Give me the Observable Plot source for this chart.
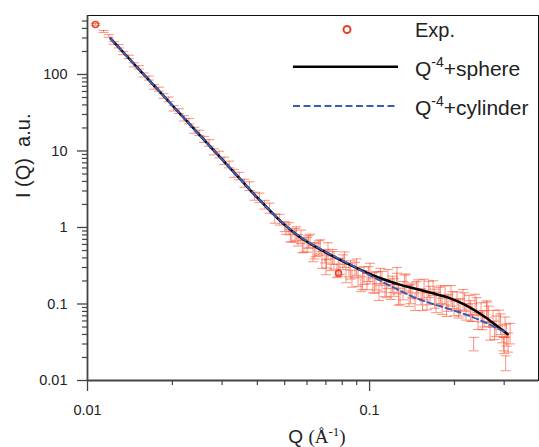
<!DOCTYPE html>
<html><head><meta charset="utf-8">
<script src="https://cdn.jsdelivr.net/npm/d3@7"></script>
<script src="https://cdn.jsdelivr.net/npm/@observablehq/plot@0.6"></script>
<style>body{margin:0;background:#fff;} #chart svg{display:block}</style>
</head><body><div id="chart"></div>
<script>
// Experimental data: Q (1/Å), I(Q), relative error
const expQ = [0.01067, 0.0114, 0.0119, 0.0124, 0.0129, 0.0134, 0.0140, 0.0146, 0.0152, 0.0158,
  0.0165, 0.0172, 0.0179, 0.0186, 0.0194, 0.0202, 0.0211, 0.0220, 0.0229, 0.0239,
  0.0249, 0.0259, 0.0270, 0.0281, 0.0293, 0.0305, 0.0318, 0.0331, 0.0345, 0.0360,
  0.0375, 0.0391, 0.0407, 0.0424, 0.0442, 0.0461, 0.0480, 0.0500,
  0.0505, 0.0518, 0.0530, 0.0544, 0.0557, 0.0571, 0.0585, 0.0600, 0.0615, 0.0630,
  0.0645, 0.0661, 0.0678, 0.0695, 0.0712, 0.0730, 0.0748, 0.0766, 0.0785, 0.0805,
  0.0825, 0.0845, 0.0866, 0.0888, 0.0910, 0.0932, 0.0955, 0.0979, 0.1003, 0.1028,
  0.1054, 0.1080, 0.1107, 0.1134, 0.1162, 0.1191, 0.1221, 0.1251, 0.1282, 0.1314,
  0.1346, 0.1380, 0.1414, 0.1449, 0.1485, 0.1522, 0.1560, 0.1598, 0.1638, 0.1679,
  0.1720, 0.1763, 0.1807, 0.1851, 0.1897, 0.1944, 0.1993, 0.2042, 0.2093, 0.2145,
  0.2198, 0.2252, 0.2308, 0.2365, 0.2424, 0.2484, 0.2546, 0.2609, 0.2673, 0.2740,
  0.2808, 0.2877, 0.2949, 0.3022, 0.3097, 0.3150, 0.2338, 0.2987, 0.3035,
  0.0524, 0.0550, 0.0578, 0.0607, 0.0637, 0.0669, 0.0703, 0.0739, 0.0775, 0.0815,
  0.0855, 0.0899, 0.0944, 0.0991, 0.1041, 0.1093, 0.1148, 0.1206, 0.1266, 0.1330,
  0.1397, 0.1467, 0.1541, 0.1618, 0.1700, 0.1785, 0.1874, 0.1968, 0.2067, 0.2171,
  0.2280, 0.2394, 0.2514, 0.2640, 0.2772, 0.2911, 0.3057, 0.3000, 0.2600, 0.1250, 0.0700];
const expI = [451, 365, 319, 258, 234, 191, 170, 134, 124, 98.8,
  89.9, 68.9, 64.3, 52.5, 47.5, 36.2, 33.3, 26.8, 24.6, 18.7,
  17.3, 14.2, 12.8, 9.78, 9.03, 7.48, 6.69, 5.13, 4.74, 3.81,
  3.50, 2.58, 2.47, 2.00, 1.81, 1.32, 1.28, 1.04,
  0.96, 0.98, 0.77, 0.81, 0.69, 0.77, 0.58, 0.61, 0.68, 0.47,
  0.52, 0.55, 0.39, 0.43, 0.51, 0.35, 0.385, 0.276, 0.32, 0.36,
  0.26, 0.283, 0.221, 0.285, 0.236, 0.186, 0.243, 0.202, 0.262, 0.179,
  0.209, 0.148, 0.205, 0.165, 0.221, 0.147, 0.170, 0.194, 0.130, 0.155,
  0.197, 0.133, 0.154, 0.111, 0.162, 0.128, 0.162, 0.112, 0.134, 0.165,
  0.110, 0.131, 0.096, 0.135, 0.107, 0.134, 0.090, 0.113, 0.093, 0.119,
  0.081, 0.101, 0.080, 0.103, 0.062, 0.081, 0.066, 0.0815, 0.046, 0.066,
  0.0536, 0.065, 0.042, 0.052, 0.0326, 0.043, 0.0305, 0.0305, 0.0172,
  0.79, 0.85, 0.60, 0.66, 0.51, 0.57, 0.395, 0.423, 0.31, 0.39,
  0.29, 0.313, 0.214, 0.252, 0.198, 0.234, 0.166, 0.186, 0.137, 0.190,
  0.140, 0.157, 0.117, 0.160, 0.122, 0.137, 0.098, 0.116, 0.091, 0.110,
  0.085, 0.096, 0.064, 0.072, 0.047, 0.057, 0.0414, 0.030, 0.088, 0.24, 0.31];
const expE = [0.03, 0.03, 0.04, 0.04, 0.05, 0.05, 0.05, 0.06, 0.05, 0.06,
  0.06, 0.07, 0.06, 0.07, 0.07, 0.08, 0.07, 0.08, 0.08, 0.09,
  0.08, 0.09, 0.10, 0.09, 0.10, 0.11, 0.10, 0.12, 0.11, 0.12,
  0.13, 0.12, 0.14, 0.13, 0.15, 0.14, 0.16, 0.15,
  0.15, 0.18, 0.16, 0.2, 0.17, 0.2, 0.18, 0.22, 0.2, 0.24,
  0.2, 0.22, 0.25, 0.2, 0.24, 0.22, 0.26, 0.2, 0.24, 0.22,
  0.27, 0.2, 0.25, 0.23, 0.28, 0.22, 0.26, 0.24, 0.3, 0.22,
  0.27, 0.25, 0.3, 0.24, 0.28, 0.22, 0.26, 0.3, 0.24, 0.27,
  0.25, 0.3, 0.22, 0.26, 0.28, 0.24, 0.3, 0.25, 0.27, 0.22,
  0.3, 0.26, 0.24, 0.28, 0.25, 0.3, 0.22, 0.27, 0.25, 0.3,
  0.24, 0.28, 0.26, 0.3, 0.25, 0.28, 0.24, 0.3, 0.27, 0.25,
  0.3, 0.28, 0.26, 0.3, 0.28, 0.3, 0.2, 0.2, 0.22,
  0.18, 0.2, 0.22, 0.19, 0.24, 0.21, 0.25, 0.22, 0.26, 0.23,
  0.27, 0.24, 0.28, 0.22, 0.3, 0.25, 0.27, 0.24, 0.3, 0.26,
  0.28, 0.25, 0.3, 0.24, 0.28, 0.26, 0.3, 0.25, 0.28, 0.27,
  0.3, 0.26, 0.28, 0.3, 0.27, 0.3, 0.32, 0.25, 0.25, 0.25, 0.22];
// Points drawn with the circle symbol
const markQ = [0.01067, 0.0776];
const markI = [451, 0.253];
// Fit: Q^-4 + sphere
const sphereQ = [0.01207, 0.0140, 0.0170, 0.0200, 0.0250, 0.0300, 0.0350, 0.0400, 0.0450, 0.0500,
  0.0550, 0.0600, 0.0654, 0.0750, 0.0856, 0.1000, 0.1094, 0.1288, 0.1432, 0.1650, 0.1891,
  0.2100, 0.2280, 0.2490, 0.2686, 0.2890, 0.3085];
const sphereI = [296, 163, 75.2, 39.3, 16.1, 7.76, 4.19, 2.45, 1.57, 1.08,
  0.81, 0.65, 0.54, 0.412, 0.322, 0.248, 0.217, 0.178, 0.161, 0.140, 0.122,
  0.104, 0.0891, 0.0728, 0.0596, 0.0486, 0.0402];
// Fit: Q^-4 + cylinder
const cylQ = [0.01207, 0.0140, 0.0170, 0.0200, 0.0250, 0.0300, 0.0350, 0.0400, 0.0450, 0.0500,
  0.0550, 0.0600, 0.0654, 0.0750, 0.0856, 0.1000, 0.1094, 0.1250, 0.1432, 0.1650, 0.1891,
  0.2180, 0.2475, 0.2750, 0.3036];
const cylI = [296, 163, 75.2, 39.3, 16.1, 7.76, 4.19, 2.45, 1.57, 1.09,
  0.82, 0.66, 0.548, 0.42, 0.327, 0.238, 0.200, 0.156, 0.123, 0.102, 0.0873,
  0.0735, 0.061, 0.051, 0.0424];
// Ticks
const yMajor = [0.01, 0.1, 1, 10, 100];
const yMinor = [0.02,0.03,0.04,0.05,0.06,0.07,0.08,0.09, 0.2,0.3,0.4,0.5,0.6,0.7,0.8,0.9,
  2,3,4,5,6,7,8,9, 20,30,40,50,60,70,80,90, 200,300,400,500];
const xMajor = [0.01, 0.1];
const xMinor = [0.02,0.03,0.04,0.05,0.06,0.07,0.08,0.09, 0.2,0.3];

const exp = expQ.map((q, i) => ({q, I: expI[i], e: expE[i]}));
const markPts = markQ.map((q, i) => ({q, I: markI[i]}));
const sphere = sphereQ.map((q, i) => ({q, I: sphereI[i]}));
const cyl = cylQ.map((q, i) => ({q, I: cylI[i]}));

const capSymbol = {draw(ctx, size) { const r = Math.sqrt(size / Math.PI); ctx.moveTo(-r, 0); ctx.lineTo(r, 0); }};
const errColor = "rgba(245,72,42,0.55)";
const red = "#e8402a";
const axisColor = "#444";
const font = "'Liberation Sans', Arial, sans-serif";

const chart = Plot.plot({
  width: 539, height: 447,
  marginLeft: 87, marginRight: 1, marginTop: 15, marginBottom: 67,
  style: {fontFamily: font, background: "white", color: "#222"},
  x: {type: "log", domain: [0.01, 0.397]},
  y: {type: "log", domain: [0.01, 590]},
  marks: [
    Plot.frame({stroke: "#111", strokeWidth: 1}),
    Plot.ruleX(exp, {x: "q", y1: d => d.I * (1 - d.e), y2: d => d.I * (1 + d.e), stroke: errColor, strokeWidth: 1.1}),
    Plot.dot(exp, {x: "q", y: d => d.I * (1 + d.e), symbol: capSymbol, r: 5, stroke: errColor, fill: "none", strokeWidth: 1.1}),
    Plot.dot(exp, {x: "q", y: d => d.I * (1 - d.e), symbol: capSymbol, r: 5, stroke: errColor, fill: "none", strokeWidth: 1.1}),
    Plot.dot(markPts, {x: "q", y: "I", r: 3, stroke: red, fill: "none", strokeWidth: 1.5}),
    Plot.line(sphere, {x: "q", y: "I", stroke: "#000", strokeWidth: 2.5, curve: "monotone-x"}),
    Plot.line(cyl, {x: "q", y: "I", stroke: "#3a5cb8", strokeWidth: 2, strokeDasharray: "6,3.5", curve: "monotone-x"}),
    Plot.ruleX([0.01], {stroke: axisColor, strokeWidth: 1.8}),
    Plot.ruleY([0.01], {stroke: axisColor, strokeWidth: 1.8}),
    Plot.axisY(yMajor, {tickSize: 10, tickPadding: 10, fontSize: 14.5, tickFormat: d => String(d), label: null, stroke: axisColor, strokeWidth: 1.3, fill: "#222"}),
    Plot.axisY(yMinor, {tickSize: 5, text: null, label: null, stroke: axisColor, strokeWidth: 1.2}),
    Plot.axisX(xMajor, {tickSize: 11, tickPadding: 13, fontSize: 14.5, tickFormat: d => String(d), label: null, stroke: axisColor, strokeWidth: 1.3, fill: "#222"}),
    Plot.axisX(xMinor, {tickSize: 5, text: null, label: null, stroke: axisColor, strokeWidth: 1.2}),
    Plot.text(["I (Q)  a.u."], {frameAnchor: "left", dx: -64, rotate: -90, fontSize: 20, fill: "#222"})
  ]
});
document.getElementById("chart").appendChild(chart);

// x-axis label with superscript, and legend
const svg = d3.select(chart);
const xl = svg.append("text").attr("x", 317).attr("y", 443).attr("text-anchor", "middle")
  .attr("fill", "#222").style("font-size", "19px");
xl.append("tspan").style("font-family", font).text("Q ");
xl.append("tspan").style("font-family", "'Liberation Serif', serif").text("(Å");
xl.append("tspan").style("font-family", "'Liberation Serif', serif").style("font-size", "13px").attr("dy", -7).text("-1");
xl.append("tspan").style("font-family", "'Liberation Serif', serif").attr("dy", 7).text(")");

const lg = svg.append("g").style("font-family", font).attr("fill", "#222").attr("text-anchor", "start");
lg.append("circle").attr("cx", 347).attr("cy", 29.5).attr("r", 3.5).attr("fill", "none").attr("stroke", red).attr("stroke-width", 2);
lg.append("text").attr("x", 415).attr("y", 37).attr("text-anchor", "start").style("font-size", "20px").text("Exp.");
lg.append("line").attr("x1", 293).attr("x2", 398).attr("y1", 66.7).attr("y2", 66.7).attr("stroke", "#000").attr("stroke-width", 2.5);
const t2 = lg.append("text").attr("x", 415).attr("y", 76).attr("text-anchor", "start").style("font-size", "21px");
t2.append("tspan").text("Q");
t2.append("tspan").style("font-size", "14px").attr("dy", -9).text("-4");
t2.append("tspan").attr("dy", 9).text("+sphere");
lg.append("line").attr("x1", 293).attr("x2", 398).attr("y1", 106).attr("y2", 106).attr("stroke", "#3a5cb8").attr("stroke-width", 2).attr("stroke-dasharray", "7,3.5");
const t3 = lg.append("text").attr("x", 415).attr("y", 115).attr("text-anchor", "start").style("font-size", "21px");
t3.append("tspan").text("Q");
t3.append("tspan").style("font-size", "14px").attr("dy", -9).text("-4");
t3.append("tspan").attr("dy", 9).text("+cylinder");
</script>
</body></html>
